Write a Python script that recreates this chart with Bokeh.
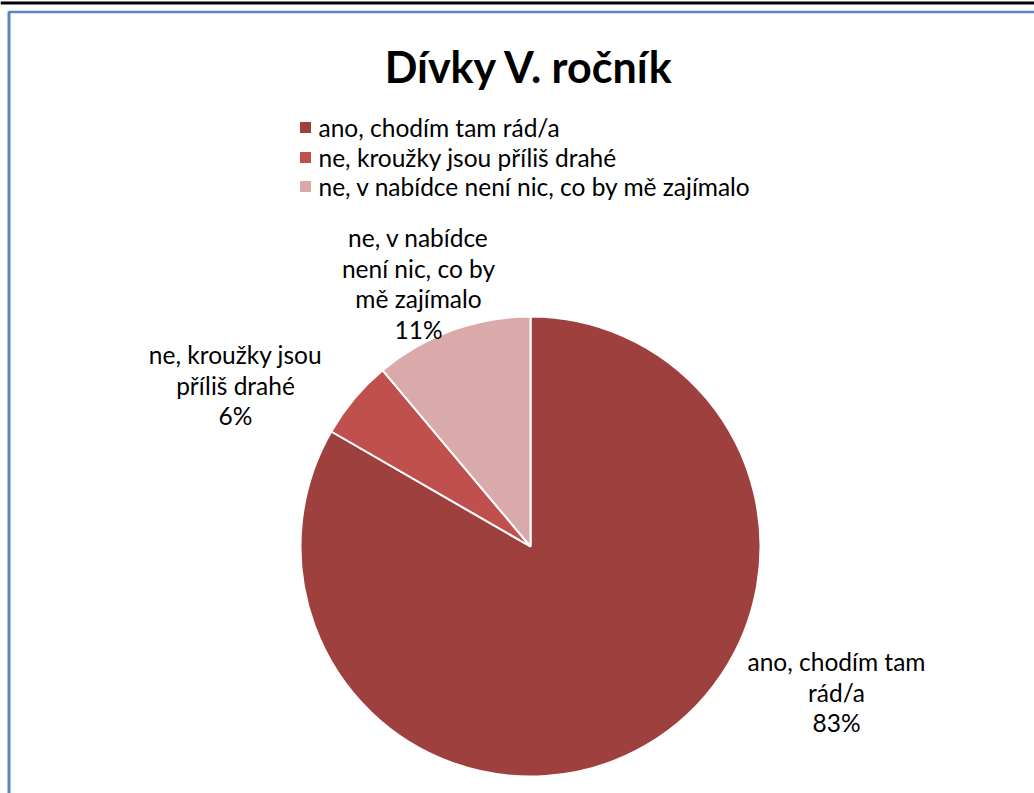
import math
from bokeh.plotting import figure
from bokeh.models import Range1d
from bokeh.core.properties import value
from bokeh.embed import file_html
from bokeh.resources import INLINE

# ---- data ----
title = "Dívky V. ročník"
categories = ["ano, chodím tam rád/a",
              "ne, kroužky jsou příliš drahé",
              "ne, v nabídce není nic, co by mě zajímalo"]
counts = [15, 1, 2]
colors = ["#9E413E", "#C0504D", "#D9AAA9"]
label_lines = [["ano, chodím tam", "rád/a"],
               ["ne, kroužky jsou", "příliš drahé"],
               ["ne, v nabídce", "není nic, co by", "mě zajímalo"]]

# ---- layout (page pixel coordinates) ----
W, H = 1034, 793
FONT = "Lato"


def py(y):
    return H - y


p = figure(width=W, height=H, output_backend="svg", toolbar_location=None,
           x_range=Range1d(0, W), y_range=Range1d(0, H), min_border=0)
p.axis.visible = False
p.grid.visible = False
p.outline_line_color = None
p.background_fill_color = "white"
p.border_fill_color = "white"

# page rule and frame border
p.segment(x0=[0], y0=[py(2.5)], x1=[W], y1=[py(2.5)], line_color="black", line_width=3)
p.segment(x0=[8], y0=[py(11.5)], x1=[W], y1=[py(11.5)], line_color="#5A86BF", line_width=2.5)
p.segment(x0=[8.5], y0=[py(11)], x1=[8.5], y1=[py(H)], line_color="#5A86BF", line_width=3)

# title
p.text(x=[529], y=[py(66)], text=[title], text_font=value(FONT), text_font_style="bold",
       text_font_size="43px", text_align="center", text_baseline="middle", text_color="black")

# pie
cx, cy, r = 530, py(546), 230
total = sum(counts)
cum = 0.0
starts, ends = [], []
for c in counts:
    a0 = math.pi / 2 - 2 * math.pi * cum / total
    cum += c
    a1 = math.pi / 2 - 2 * math.pi * cum / total
    starts.append(a0)
    ends.append(a1)

p.wedge(x=[cx] * 3, y=[cy] * 3, radius=r, start_angle=starts, end_angle=ends,
        direction="clock", fill_color=colors, line_color="white", line_width=2)

# data labels
label_pos = [(836, 661), (235, 354), (418, 237)]
lh = 30.5
for i, (lines, (lx, ly)) in enumerate(zip(label_lines, label_pos)):
    pct = f"{round(counts[i] / total * 100)}%"
    all_lines = lines + [pct]
    ys = [py(ly + k * lh) for k in range(len(all_lines))]
    p.text(x=[lx] * len(all_lines), y=ys, text=all_lines, text_font=value(FONT),
           text_font_size="24.5px", text_align="center", text_baseline="middle",
           text_color="black")

# legend
leg_y = [127, 157, 186]
p.scatter(x=[305] * 3, y=[py(v) for v in leg_y], marker="square", size=11,
          fill_color=colors, line_color=None)
p.text(x=[318] * 3, y=[py(v) for v in leg_y], text=categories, text_font=value(FONT),
       text_font_size="24.5px", text_align="left", text_baseline="middle", text_color="black")

open("out.html", "w").write(file_html(p, INLINE))
